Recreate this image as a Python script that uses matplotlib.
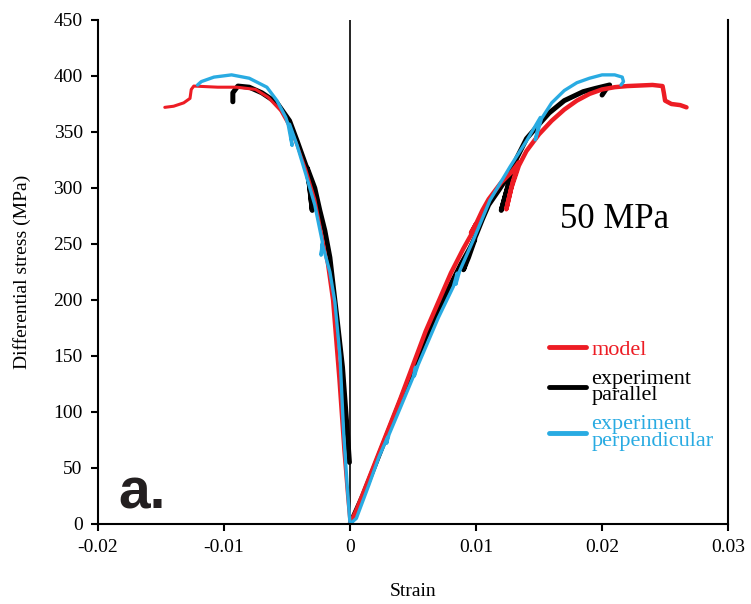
import matplotlib
matplotlib.use("Agg")
from matplotlib import pyplot as plt

# axial (positive strain) branches
model_ax_strain = [0, 0.0005, 0.002, 0.004, 0.006, 0.007, 0.008, 0.009, 0.0098, 0.0100, 0.0096, 0.0100,
                   0.0105, 0.011, 0.012, 0.0128, 0.0134, 0.0129, 0.0124, 0.0128, 0.0134, 0.0140, 0.015,
                   0.016, 0.017, 0.018, 0.019, 0.020, 0.021, 0.022, 0.023, 0.024, 0.0248, 0.0249, 0.0250,
                   0.0255, 0.0262, 0.0267]
model_ax_stress = [0, 12, 55, 112, 172, 198, 224, 246, 262, 268, 260, 268,
                   280, 290, 305, 314, 323, 305, 281, 300, 320, 333, 348,
                   360, 370, 378, 384, 388, 390, 391, 391.5, 392, 391, 385, 378,
                   375, 374, 372]

par_ax_strain = [0, 0.001, 0.002, 0.004, 0.006, 0.0075, 0.0088, 0.0099, 0.0094, 0.0090, 0.0094, 0.0100,
                 0.0105, 0.011, 0.0118, 0.0125, 0.0130, 0.0124, 0.0120, 0.0126, 0.0132, 0.014, 0.015,
                 0.0158, 0.017, 0.0185, 0.0195, 0.0206, 0.0203, 0.0200]
par_ax_stress = [0, 25, 53, 110, 166, 203, 232, 254, 238, 227, 242, 258,
                 272, 285, 298, 310, 318, 296, 280, 305, 326, 344, 357,
                 367, 378, 386, 389, 392, 388, 383]

perp_ax_strain = [0, 0.0005, 0.0015, 0.0023, 0.0030, 0.0029, 0.0031, 0.004, 0.005, 0.0052, 0.0051,
                  0.0054, 0.007, 0.0082, 0.0085, 0.0084, 0.0087, 0.0098, 0.0111, 0.0127, 0.014,
                  0.0151, 0.0147, 0.0152, 0.016, 0.017, 0.018, 0.019, 0.020, 0.021, 0.0216, 0.0217,
                  0.0215]
perp_ax_stress = [0, 5, 35, 60, 78, 72, 80, 104, 131, 140, 132,
                  142, 184, 212, 224, 214, 226, 254, 289, 319, 342,
                  363, 343, 362, 376, 387, 394, 398, 401, 401, 399, 395,
                  392]

# lateral (negative strain) branches
model_lat_strain = [0, -0.0002, -0.0005, -0.0009, -0.0014, -0.0018, -0.0022, -0.0028, -0.0035, -0.0042,
                    -0.0048, -0.0055, -0.0065, -0.0075, -0.009, -0.0105, -0.0124, -0.0126, -0.0127,
                    -0.0132, -0.014, -0.0147]
model_lat_stress = [0, 25, 66, 130, 200, 232, 256, 290, 316, 338,
                    355, 369, 381, 388, 390, 390, 391, 388, 380,
                    376, 373, 372]

par_lat_strain = [-0.00005, -0.0002, -0.0006, -0.0010, -0.0016, -0.0020, -0.0024, -0.0028, -0.0034,
                  -0.0032, -0.0030, -0.0032, -0.0035, -0.0042, -0.0048, -0.0058, -0.0070, -0.0080,
                  -0.0089, -0.0093, -0.0093]
par_lat_stress = [55, 80, 140, 180, 238, 262, 280, 300, 318,
                  300, 280, 302, 320, 342, 360, 376, 385, 390,
                  391, 385, 377]

perp_lat_strain = [0, -0.0002, -0.0005, -0.0008, -0.0012, -0.0016, -0.0022, -0.0023, -0.0022, -0.0028,
                   -0.0035, -0.0042, -0.0048, -0.0046, -0.0049, -0.0051, -0.0058, -0.0066, -0.0080,
                   -0.0094, -0.0108, -0.0118, -0.0121]
perp_lat_stress = [0, 30, 80, 150, 198, 225, 250, 240, 252, 285,
                   312, 338, 357, 338, 356, 363, 378, 390, 398,
                   401, 399, 395, 392]

labels = ["model", "experiment\nparallel", "experiment\nperpendicular"]
colors = ["#ed1c24", "#000000", "#29abe2"]
yticks = [0, 50, 100, 150, 200, 250, 300, 350, 400, 450]
xticks = [-0.02, -0.01, 0, 0.01, 0.02, 0.03]

serif = "Liberation Serif"

fig = plt.figure(figsize=(7.51, 6.04), dpi=100)
ax = fig.add_axes([0.1305, 0.1325, 0.839, 0.8344])

ax.axvline(0, color="black", lw=1.2, zorder=1)

l_par, = ax.plot(par_ax_strain, par_ax_stress, color=colors[1], lw=3.6, solid_capstyle="round")
ax.plot(par_lat_strain, par_lat_stress, color=colors[1], lw=3.6, solid_capstyle="round")
l_mod, = ax.plot(model_ax_strain, model_ax_stress, color=colors[0], lw=3.2, solid_capstyle="round")
ax.plot(model_lat_strain, model_lat_stress, color=colors[0], lw=2.2, solid_capstyle="round")
l_perp, = ax.plot(perp_ax_strain, perp_ax_stress, color=colors[2], lw=2.4, solid_capstyle="round")
ax.plot(perp_lat_strain, perp_lat_stress, color=colors[2], lw=2.4, solid_capstyle="round")

ax.set_xlim(-0.02, 0.03)
ax.set_ylim(0, 450)
ax.set_xticks(xticks)
ax.set_xticklabels(["-0.02", "-0.01", "0", "0.01", "0.02", "0.03"])
ax.set_yticks(yticks)
for s in ["left", "bottom", "right"]:
    ax.spines[s].set_linewidth(1.5)
ax.spines["top"].set_visible(False)
ax.tick_params(direction="out", length=5, width=1.5, labelsize=14, pad=6)
for t in ax.get_xticklabels() + ax.get_yticklabels():
    t.set_fontfamily(serif)

ax.set_xlabel("Strain", fontsize=14, fontfamily=serif, labelpad=19)
ax.set_ylabel("Differential stress (MPa)", fontsize=14, fontfamily=serif, labelpad=16)

ax.text(0.0210, 272, "50 MPa", fontsize=25, fontfamily=serif, ha="center", va="center")
ax.text(-0.0184, 14, "a.", fontsize=41, fontweight="bold", fontfamily="Liberation Sans",
        color="#231f20", ha="left", va="baseline")

leg = ax.legend([l_mod, l_par, l_perp], labels, loc="upper left", bbox_to_anchor=(0.716, 0.367),
                frameon=False, labelcolor=colors, handlelength=1.65, handletextpad=0.25,
                labelspacing=0.45, borderpad=0, borderaxespad=0,
                prop={"family": serif, "size": 16})
for h in leg.get_lines():
    h.set_linewidth(3.5)
for t in leg.get_texts():
    t.set_linespacing(0.85)

fig.savefig("out.png", dpi=100)
